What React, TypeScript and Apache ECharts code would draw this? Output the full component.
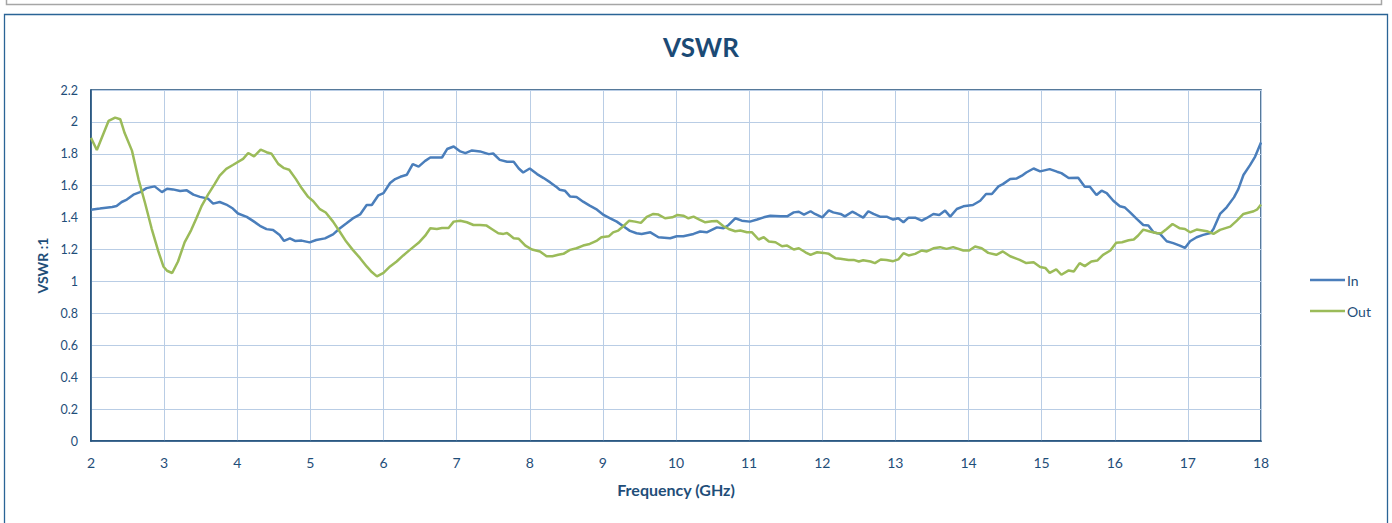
import React, { useEffect, useRef } from "react";
import * as echarts from "echarts";

const freqIn = [2.0,2.12,2.29,2.35,2.42,2.49,2.58,2.67,2.76,2.87,2.97,3.04,3.12,3.22,3.31,3.40,3.49,3.60,3.67,3.76,3.85,3.94,4.01,4.13,4.22,4.31,4.40,4.49,4.58,4.64,4.72,4.79,4.88,4.99,5.08,5.20,5.31,5.40,5.49,5.58,5.68,5.77,5.84,5.93,6.0,6.09,6.16,6.23,6.32,6.40,6.48,6.57,6.64,6.80,6.87,6.96,7.05,7.12,7.21,7.32,7.44,7.50,7.59,7.69,7.78,7.85,7.91,8.0,8.10,8.19,8.28,8.37,8.41,8.48,8.55,8.64,8.73,8.82,8.92,9.01,9.10,9.19,9.28,9.37,9.46,9.53,9.65,9.76,9.92,10.01,10.10,10.24,10.33,10.42,10.56,10.65,10.72,10.81,10.90,11.01,11.11,11.20,11.29,11.43,11.52,11.61,11.68,11.75,11.84,11.90,12.0,12.09,12.15,12.25,12.31,12.41,12.47,12.56,12.63,12.70,12.79,12.88,12.97,13.04,13.11,13.18,13.27,13.36,13.43,13.52,13.60,13.68,13.75,13.84,13.93,14.06,14.16,14.24,14.32,14.41,14.47,14.57,14.66,14.73,14.79,14.89,14.98,15.11,15.21,15.27,15.37,15.50,15.59,15.66,15.75,15.82,15.89,15.98,16.07,16.14,16.21,16.30,16.39,16.46,16.53,16.62,16.71,16.80,16.89,16.96,17.03,17.12,17.21,17.31,17.35,17.44,17.53,17.63,17.69,17.76,17.85,17.92,18.0];
const vswrIn = [1.45,1.457,1.467,1.473,1.498,1.513,1.544,1.56,1.585,1.596,1.56,1.581,1.577,1.567,1.571,1.544,1.53,1.519,1.488,1.498,1.482,1.457,1.426,1.405,1.378,1.349,1.328,1.322,1.291,1.254,1.27,1.254,1.256,1.245,1.26,1.27,1.295,1.332,1.363,1.395,1.42,1.479,1.479,1.54,1.554,1.617,1.642,1.656,1.669,1.735,1.72,1.756,1.777,1.777,1.83,1.846,1.815,1.804,1.821,1.815,1.798,1.802,1.762,1.75,1.75,1.708,1.683,1.708,1.673,1.648,1.621,1.59,1.575,1.569,1.533,1.529,1.5,1.475,1.45,1.417,1.396,1.375,1.346,1.317,1.302,1.298,1.308,1.277,1.271,1.283,1.283,1.298,1.313,1.308,1.339,1.333,1.354,1.396,1.381,1.375,1.388,1.402,1.412,1.408,1.408,1.433,1.437,1.419,1.44,1.423,1.402,1.446,1.433,1.423,1.408,1.437,1.423,1.4,1.44,1.423,1.406,1.406,1.388,1.396,1.371,1.4,1.4,1.381,1.398,1.423,1.417,1.444,1.406,1.454,1.471,1.479,1.506,1.548,1.548,1.596,1.61,1.642,1.646,1.663,1.683,1.708,1.69,1.704,1.688,1.679,1.648,1.65,1.594,1.594,1.542,1.569,1.554,1.506,1.471,1.463,1.433,1.392,1.354,1.35,1.308,1.298,1.252,1.24,1.225,1.21,1.252,1.277,1.292,1.304,1.329,1.423,1.465,1.527,1.579,1.667,1.729,1.783,1.871];

const freqOut = [2.0,2.08,2.24,2.33,2.40,2.46,2.56,2.65,2.74,2.83,2.92,2.99,3.04,3.11,3.19,3.28,3.37,3.44,3.51,3.60,3.69,3.76,3.85,3.94,4.08,4.15,4.23,4.32,4.40,4.47,4.56,4.64,4.71,4.80,4.88,4.97,5.04,5.13,5.21,5.31,5.40,5.49,5.58,5.68,5.77,5.84,5.91,6.0,6.09,6.18,6.27,6.36,6.48,6.57,6.64,6.73,6.80,6.89,6.96,7.05,7.14,7.23,7.32,7.41,7.48,7.57,7.64,7.69,7.78,7.85,7.94,8.03,8.14,8.23,8.31,8.39,8.46,8.55,8.64,8.73,8.82,8.92,8.98,9.08,9.14,9.21,9.28,9.36,9.44,9.52,9.60,9.69,9.76,9.85,9.95,10.02,10.10,10.17,10.24,10.32,10.40,10.49,10.56,10.65,10.72,10.81,10.88,10.97,11.04,11.13,11.20,11.27,11.36,11.45,11.52,11.61,11.68,11.77,11.84,11.93,12.02,12.09,12.18,12.25,12.36,12.43,12.50,12.56,12.66,12.72,12.80,12.88,12.97,13.04,13.11,13.18,13.27,13.36,13.43,13.52,13.61,13.70,13.79,13.93,14.01,14.09,14.18,14.27,14.38,14.47,14.57,14.70,14.79,14.89,14.98,15.05,15.11,15.20,15.27,15.37,15.44,15.52,15.59,15.68,15.76,15.84,15.94,16.02,16.10,16.19,16.26,16.32,16.39,16.48,16.58,16.64,16.71,16.79,16.89,16.96,17.03,17.12,17.26,17.35,17.44,17.58,17.67,17.76,17.90,17.95,18.0];
const vswrOut = [1.90,1.824,2.006,2.027,2.017,1.93,1.82,1.64,1.49,1.33,1.19,1.094,1.067,1.053,1.125,1.245,1.322,1.395,1.47,1.544,1.61,1.664,1.706,1.73,1.768,1.805,1.784,1.826,1.81,1.80,1.737,1.71,1.70,1.643,1.585,1.53,1.503,1.453,1.432,1.375,1.313,1.25,1.198,1.146,1.094,1.059,1.032,1.054,1.094,1.125,1.163,1.198,1.242,1.287,1.333,1.329,1.335,1.335,1.375,1.381,1.371,1.354,1.354,1.35,1.329,1.302,1.298,1.304,1.271,1.267,1.225,1.2,1.188,1.158,1.158,1.167,1.173,1.198,1.208,1.225,1.235,1.256,1.277,1.283,1.308,1.319,1.346,1.381,1.375,1.367,1.405,1.423,1.419,1.396,1.402,1.417,1.412,1.396,1.406,1.388,1.371,1.377,1.379,1.346,1.329,1.315,1.319,1.308,1.308,1.263,1.277,1.25,1.246,1.221,1.225,1.2,1.208,1.183,1.167,1.183,1.179,1.173,1.146,1.142,1.135,1.135,1.125,1.133,1.125,1.115,1.138,1.135,1.127,1.138,1.177,1.163,1.173,1.194,1.188,1.208,1.215,1.204,1.215,1.194,1.194,1.219,1.208,1.179,1.167,1.188,1.158,1.135,1.115,1.121,1.09,1.085,1.054,1.075,1.042,1.069,1.062,1.115,1.096,1.125,1.131,1.167,1.194,1.242,1.246,1.258,1.263,1.288,1.325,1.313,1.302,1.304,1.329,1.36,1.333,1.329,1.308,1.325,1.315,1.298,1.323,1.344,1.381,1.423,1.44,1.452,1.483];

const titleText = "VSWR";
const xAxisName = "Frequency (GHz)";
const yAxisName = "VSWR :1";
const seriesNames = ["In", "Out"];

export default function App() {
  const ref = useRef<HTMLDivElement>(null);
  useEffect(() => {
    if (!ref.current) return;
    const chart = echarts.init(ref.current, null, { renderer: "svg" });
    const font = "Lato, 'Open Sans', sans-serif";
    const dark = "#1f4e79";
    chart.setOption({
      animation: false,
      backgroundColor: "#ffffff",
      textStyle: { fontFamily: font },
      title: {
        text: titleText,
        left: 696,
        textAlign: "center",
        top: 29,
        textStyle: { fontSize: 26, fontWeight: "bold", color: "#1b4a75", fontFamily: font },
      },
      graphic: [
        { type: "rect", shape: { x: 6.5, y: -10, width: 1375, height: 14.5 }, style: { fill: "none", stroke: "#a6a6a6", lineWidth: 1.5 }, silent: true },
        { type: "rect", shape: { x: 4.5, y: 14.5, width: 1383, height: 530 }, style: { fill: "none", stroke: "#2a6496", lineWidth: 1.3 }, silent: true },
      ],
      legend: {
        data: seriesNames,
        orient: "vertical",
        left: 1305,
        top: 268,
        icon: "rect",
        itemWidth: 35,
        itemHeight: 2.5,
        itemGap: 17,
        textStyle: { fontSize: 14, color: dark, fontFamily: font, padding: [0, 0, 0, -3] },
      },
      grid: { left: 91, right: 131, top: 90, bottom: 82, containLabel: false, show: true, borderColor: dark, borderWidth: 1.5 },
      xAxis: {
        type: "value",
        min: 2,
        max: 18,
        interval: 1,
        name: xAxisName,
        nameLocation: "middle",
        nameGap: 40,
        nameTextStyle: { fontSize: 16, fontWeight: "bold", color: dark, fontFamily: font },
        axisLine: { show: true, lineStyle: { color: dark, width: 1.5 } },
        axisTick: { show: false },
        axisLabel: { fontSize: 14, color: dark, margin: 14 },
        splitLine: { show: true, lineStyle: { color: "#b9cde5", width: 1 } },
      },
      yAxis: {
        type: "value",
        min: 0,
        max: 2.2,
        interval: 0.2,
        name: yAxisName,
        nameLocation: "middle",
        nameGap: 40,
        nameTextStyle: { fontSize: 14, fontWeight: "bold", color: dark, fontFamily: font },
        axisLine: { show: true, lineStyle: { color: dark, width: 1.5 } },
        axisTick: { show: false },
        axisLabel: { fontSize: 12.5, color: dark, margin: 13 },
        splitLine: { show: true, lineStyle: { color: "#b9cde5", width: 1 } },
      },
      series: [
        {
          name: seriesNames[0],
          type: "line",
          data: freqIn.map((f, i) => [f, vswrIn[i]]),
          symbol: "none",
          lineStyle: { color: "#4a7ebb", width: 2.5 },
          itemStyle: { color: "#4a7ebb" },
        },
        {
          name: seriesNames[1],
          type: "line",
          data: freqOut.map((f, i) => [f, vswrOut[i]]),
          symbol: "none",
          lineStyle: { color: "#9bbb59", width: 2.5 },
          itemStyle: { color: "#9bbb59" },
        },
      ],
    });
    return () => chart.dispose();
  }, []);
  return (
    <div
      ref={ref}
      style={{ position: "absolute", left: 0, top: 0, width: 1392, height: 523 }}
    />
  );
}
